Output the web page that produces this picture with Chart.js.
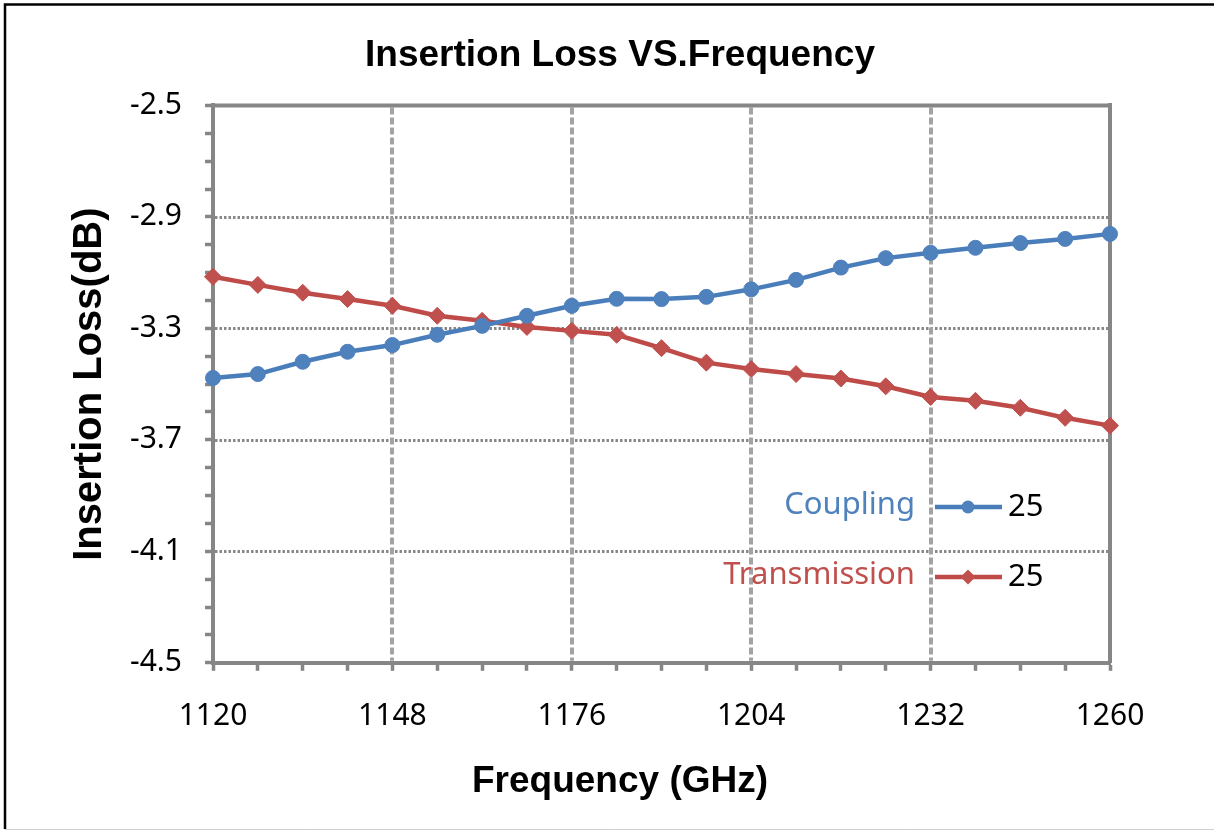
<!DOCTYPE html>
<html>
<head>
<meta charset="utf-8">
<title>Insertion Loss VS.Frequency</title>
<script src="https://cdn.jsdelivr.net/npm/chart.js@4.4.0/dist/chart.umd.min.js"></script>
<style>
  html, body { margin: 0; padding: 0; background: #fff; }
  #wrap { width: 1214px; height: 831px; }
</style>
</head>
<body>
<div id="wrap"><canvas id="lossChart" width="1214" height="831"></canvas></div>
<script>
// data
const frequencies = [1120, 1127, 1134, 1141, 1148, 1155, 1162, 1169, 1176, 1183, 1190,
                     1197, 1204, 1211, 1218, 1225, 1232, 1239, 1246, 1253, 1260];
const couplingLoss = [-3.478, -3.464, -3.420, -3.384, -3.360, -3.323, -3.291, -3.255, -3.219, -3.194, -3.195,
                      -3.187, -3.160, -3.126, -3.082, -3.048, -3.029, -3.011, -2.994, -2.979, -2.961];
const transmissionLoss = [-3.115, -3.144, -3.172, -3.195, -3.219, -3.255, -3.273, -3.295, -3.309, -3.323, -3.371,
                          -3.423, -3.446, -3.464, -3.480, -3.508, -3.546, -3.560, -3.585, -3.621, -3.649];
const xLabelTicks = [1120, 1148, 1176, 1204, 1232, 1260];
const yLabelTicks = [-2.5, -2.9, -3.3, -3.7, -4.1, -4.5];
const legendValue = '25';

const axisGray = '#868686';
const blueLine = '#4A7EBB', blueFill = '#4F81BD';
const redLine = '#BE4B48', redFill = '#C0504D';

Chart.defaults.font.family = '"Noto Sans", sans-serif';

const toPoints = (ys) => frequencies.map((f, i) => ({ x: f, y: ys[i] }));

// dashed/dotted grid inside the plot + solid top edge
const frameAndGrid = {
    id: 'frameAndGrid',
    beforeDatasetsDraw(chart) {
        const { ctx, chartArea: a, scales: { x, y } } = chart;
        ctx.save();
        ctx.lineWidth = 3;
        ctx.strokeStyle = '#888888';
        ctx.setLineDash([2.5, 2]);
        yLabelTicks.slice(1, -1).forEach(v => {
            const py = Math.round(y.getPixelForValue(v)) + 0.5;
            ctx.beginPath();
            ctx.moveTo(a.left + 2, py);
            ctx.lineTo(a.right - 2, py);
            ctx.stroke();
        });
        ctx.lineWidth = 4;
        ctx.strokeStyle = '#a3a3a3';
        ctx.setLineDash([7, 3]);
        xLabelTicks.slice(1, -1).forEach(v => {
            const px = Math.round(x.getPixelForValue(v));
            ctx.beginPath();
            ctx.moveTo(px, a.top + 2);
            ctx.lineTo(px, a.bottom - 2);
            ctx.stroke();
        });
        ctx.setLineDash([]);
        ctx.lineWidth = 4;
        ctx.strokeStyle = axisGray;
        ctx.beginPath();
        ctx.moveTo(a.left - 2, a.top);
        ctx.lineTo(a.right + 2, a.top);
        ctx.stroke();
        ctx.restore();
    }
};

function drawMarker(ctx, style, r, cx, cy) {
    ctx.beginPath();
    if (style === 'rectRot') {
        ctx.moveTo(cx, cy - r);
        ctx.lineTo(cx + r, cy);
        ctx.lineTo(cx, cy + r);
        ctx.lineTo(cx - r, cy);
        ctx.closePath();
    } else {
        ctx.arc(cx, cy, r, 0, Math.PI * 2);
    }
    ctx.fill();
}

// legend sits inside the plot, name - line - value
const insideLegend = {
    id: 'insideLegend',
    afterDatasetsDraw(chart) {
        const { ctx } = chart;
        const rows = [507, 577];
        ctx.save();
        chart.data.datasets.forEach((ds, i) => {
            const cy = rows[i];
            ctx.font = '31px "Noto Sans"';
            ctx.textBaseline = 'middle';
            ctx.textAlign = 'right';
            ctx.fillStyle = ds.pointBackgroundColor;
            ctx.fillText(ds.label, 915, cy - 2);
            ctx.strokeStyle = ds.borderColor;
            ctx.lineWidth = 4.5;
            ctx.beginPath();
            ctx.moveTo(935, cy);
            ctx.lineTo(1002, cy);
            ctx.stroke();
            ctx.fillStyle = ds.pointBackgroundColor;
            drawMarker(ctx, ds.pointStyle, ds.pointStyle === 'rectRot' ? 7.5 : 6.5, 968, cy);
            ctx.font = '31px "Noto Sans"';
            ctx.textAlign = 'left';
            ctx.fillStyle = '#000';
            ctx.fillText(legendValue, 1008, cy);
        });
        ctx.restore();
    }
};

// outer picture frame
const pageFrame = {
    id: 'pageFrame',
    afterDraw(chart) {
        const { ctx, width, height } = chart;
        ctx.save();
        ctx.strokeStyle = '#000';
        ctx.lineWidth = 2.5;
        ctx.beginPath();
        ctx.moveTo(5, height - 2);
        ctx.lineTo(5, 4.5);
        ctx.lineTo(width, 4.5);
        ctx.stroke();
        ctx.strokeStyle = '#d0d0d0';
        ctx.lineWidth = 1;
        ctx.beginPath();
        ctx.moveTo(5, height - 1.5);
        ctx.lineTo(width, height - 1.5);
        ctx.stroke();
        ctx.restore();
    }
};

const tickFont = { family: '"Noto Sans"', size: 30 };
const titleFont = { family: '"Liberation Sans", Arial, sans-serif', size: 37, weight: 'bold' };

new Chart(document.getElementById('lossChart'), {
    type: 'line',
    data: {
        datasets: [{
            label: 'Coupling',
            data: toPoints(couplingLoss),
            borderColor: blueLine,
            backgroundColor: blueFill,
            borderWidth: 4.5,
            pointStyle: 'circle',
            pointRadius: 7.5,
            pointBackgroundColor: blueFill,
            pointBorderColor: blueFill,
            pointBorderWidth: 1,
            tension: 0,
            clip: false
        }, {
            label: 'Transmission',
            data: toPoints(transmissionLoss),
            borderColor: redLine,
            backgroundColor: redFill,
            borderWidth: 4.5,
            pointStyle: 'rectRot',
            pointRadius: 8.5,
            pointBackgroundColor: redFill,
            pointBorderColor: redFill,
            pointBorderWidth: 1,
            tension: 0,
            clip: false
        }]
    },
    options: {
        responsive: false,
        animation: false,
        layout: { padding: { left: 26, right: 0, top: 0, bottom: 0 } },
        plugins: {
            legend: { display: false },
            tooltip: { enabled: false },
            title: {
                display: true,
                text: 'Insertion Loss VS.Frequency',
                color: '#000',
                font: titleFont,
                padding: { top: 34, bottom: 27 }
            },
            subtitle: {
                display: true,
                position: 'bottom',
                text: 'Frequency (GHz)',
                color: '#000',
                font: titleFont,
                padding: { top: 10, bottom: 27 }
            }
        },
        scales: {
            x: {
                type: 'linear',
                position: 'bottom',
                min: 1120,
                max: 1260,
                ticks: {
                    stepSize: 7,
                    maxTicksLimit: 100,
                    autoSkip: false,
                    maxRotation: 0,
                    color: '#000',
                    font: tickFont,
                    padding: 28,
                    callback: v => xLabelTicks.includes(Math.round(v)) ? String(Math.round(v)) : ''
                },
                grid: { drawOnChartArea: false, drawTicks: true, tickLength: 8, tickWidth: 3.5, tickColor: axisGray },
                border: { color: axisGray, width: 4 },
                afterFit: s => { s.height = 86.8; }
            },
            y: {
                type: 'linear',
                position: 'left',
                min: -4.5,
                max: -2.5,
                ticks: {
                    stepSize: 0.1,
                    maxTicksLimit: 100,
                    autoSkip: false,
                    color: '#000',
                    font: tickFont,
                    padding: 23,
                    callback: v => yLabelTicks.some(t => Math.abs(t - v) < 1e-6) ? v.toFixed(1) : ''
                },
                grid: { drawOnChartArea: false, drawTicks: true, tickLength: 8, tickWidth: 3.5, tickColor: axisGray },
                border: { color: axisGray, width: 4 },
                title: {
                    display: true,
                    text: 'Insertion Loss(dB)',
                    color: '#000',
                    font: { family: '"Liberation Sans", Arial, sans-serif', size: 40, weight: 'bold' },
                    padding: { top: 40, bottom: 0 }
                },
                afterFit: s => { s.width = 187; }
            },
            yRight: {
                type: 'linear',
                position: 'right',
                min: -4.5,
                max: -2.5,
                ticks: { display: false },
                grid: { drawOnChartArea: false, drawTicks: false },
                border: { color: axisGray, width: 4 },
                afterFit: s => { s.width = 104; }
            }
        }
    },
    plugins: [frameAndGrid, insideLegend, pageFrame]
});
</script>
</body>
</html>
